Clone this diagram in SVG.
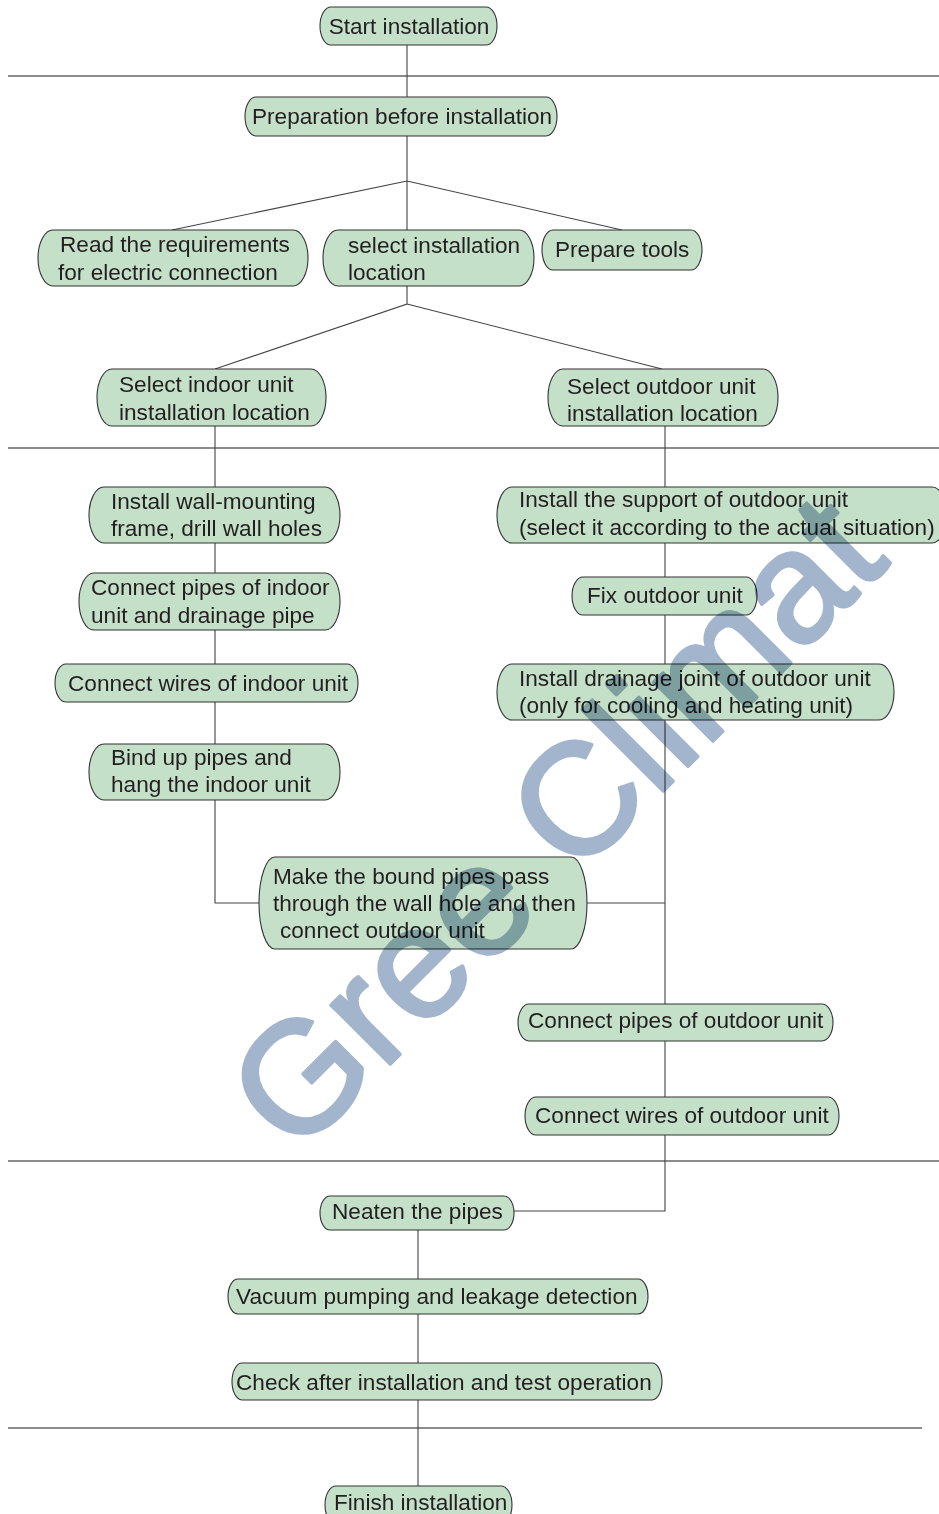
<svg xmlns="http://www.w3.org/2000/svg" width="939" height="1514" viewBox="0 0 939 1514">
<style>
.n{fill:#c4e0c8;stroke:#333;stroke-width:1.1}
.t{font-family:"Liberation Sans",Arial,sans-serif;font-size:22.6px;fill:#231f20}
.c{fill:none;stroke:#444;stroke-width:1.1}
.sep{fill:none;stroke:#666;stroke-width:1.6}
.wm{font-family:"Liberation Sans",Arial,sans-serif;font-size:158px;fill:#a2b5cc;stroke:#a2b5cc;stroke-width:3.5;stroke-linejoin:round;mix-blend-mode:multiply}
</style>
<rect width="939" height="1514" fill="#fff"/>
<g id="separators">
<line class="sep" x1="8" y1="76" x2="939" y2="76"/>
<line class="sep" x1="8" y1="448" x2="939" y2="448"/>
<line class="sep" x1="8" y1="1161" x2="939" y2="1161"/>
<line class="sep" x1="8" y1="1428" x2="922" y2="1428"/>
</g>
<g id="connectors">
<path class="c" d="M407 45V97"/>
<path class="c" d="M407 136V230M407 181L172 230M407 181L622 230"/>
<path class="c" d="M407 286V304L215 369M407 304L662 369"/>
<path class="c" d="M215 426V487M215 543V573M215 630V664M215 702V744M215 800V903H259"/>
<path class="c" d="M665 426V487M665 543V577M665 615V664M665 720V1004M587 903H665M665 1041V1097M665 1135V1211H514"/>
<path class="c" d="M418 1230V1279M418 1314V1363M418 1400V1486"/>
</g>
<g id="n1"><path class="n" d="M331 7H486A11 19 0 0 1 486 45H331A11 19 0 0 1 331 7Z"/><text class="t" x="409" y="34" text-anchor="middle">Start installation</text></g>
<g id="n2"><path class="n" d="M256 97H546A11 19.5 0 0 1 546 136H256A11 19.5 0 0 1 256 97Z"/><text class="t" x="252" y="124">Preparation before installation</text></g>
<g id="n3"><path class="n" d="M53 230H293A15 28 0 0 1 293 286H53A15 28 0 0 1 53 230Z"/><text class="t" x="60" y="252">Read the requirements</text><text class="t" x="58" y="280">for electric connection</text></g>
<g id="n4"><path class="n" d="M338 230H519A15 28 0 0 1 519 286H338A15 28 0 0 1 338 230Z"/><text class="t" x="348" y="253">select installation</text><text class="t" x="348" y="280">location</text></g>
<g id="n5"><path class="n" d="M553 230H691A11 20 0 0 1 691 270H553A11 20 0 0 1 553 230Z"/><text class="t" x="555" y="257">Prepare tools</text></g>
<g id="n6"><path class="n" d="M112 369H311A15 28.5 0 0 1 311 426H112A15 28.5 0 0 1 112 369Z"/><text class="t" x="119" y="392">Select indoor unit</text><text class="t" x="119" y="420">installation location</text></g>
<g id="n7"><path class="n" d="M563 369H763A15 28.5 0 0 1 763 426H563A15 28.5 0 0 1 563 369Z"/><text class="t" x="567" y="394">Select outdoor unit</text><text class="t" x="567" y="421">installation location</text></g>
<g id="n8"><path class="n" d="M104 487H325A15 28 0 0 1 325 543H104A15 28 0 0 1 104 487Z"/><text class="t" x="111" y="509">Install wall-mounting</text><text class="t" x="111" y="536">frame, drill wall holes</text></g>
<g id="n9"><path class="n" d="M512 487H932A15 28 0 0 1 932 543H512A15 28 0 0 1 512 487Z"/><text class="t" x="519" y="507">Install the support of outdoor unit</text><text class="t" x="519" y="535">(select it according to the actual situation)</text></g>
<g id="n10"><path class="n" d="M94 573H325A15 28.5 0 0 1 325 630H94A15 28.5 0 0 1 94 573Z"/><text class="t" x="91" y="595">Connect pipes of indoor</text><text class="t" x="91" y="623">unit and drainage pipe</text></g>
<g id="n11"><path class="n" d="M583 577H746A11 19 0 0 1 746 615H583A11 19 0 0 1 583 577Z"/><text class="t" x="587" y="603">Fix outdoor unit</text></g>
<g id="n12"><path class="n" d="M66 664H347A11 19 0 0 1 347 702H66A11 19 0 0 1 66 664Z"/><text class="t" x="68" y="691">Connect wires of indoor unit</text></g>
<g id="n13"><path class="n" d="M512 664H879A15 28 0 0 1 879 720H512A15 28 0 0 1 512 664Z"/><text class="t" x="519" y="686">Install drainage joint of outdoor unit</text><text class="t" x="519" y="713">(only for cooling and heating unit)</text></g>
<g id="n14"><path class="n" d="M104 744H325A15 28 0 0 1 325 800H104A15 28 0 0 1 104 744Z"/><text class="t" x="111" y="765">Bind up pipes and</text><text class="t" x="111" y="792">hang the indoor unit</text></g>
<g id="n15"><path class="n" d="M275 857H571A16 46 0 0 1 571 949H275A16 46 0 0 1 275 857Z"/><text class="t" x="273" y="884">Make the bound pipes pass</text><text class="t" x="273" y="911">through the wall hole and then</text><text class="t" x="280" y="938">connect outdoor unit</text></g>
<g id="n16"><path class="n" d="M529 1004H822A11 18.5 0 0 1 822 1041H529A11 18.5 0 0 1 529 1004Z"/><text class="t" x="528" y="1028">Connect pipes of outdoor unit</text></g>
<g id="n17"><path class="n" d="M536 1097H828A11 19 0 0 1 828 1135H536A11 19 0 0 1 536 1097Z"/><text class="t" x="535" y="1123">Connect wires of outdoor unit</text></g>
<g id="n18"><path class="n" d="M330 1196H504A10 17 0 0 1 504 1230H330A10 17 0 0 1 330 1196Z"/><text class="t" x="332" y="1219">Neaten the pipes</text></g>
<g id="n19"><path class="n" d="M238 1279H638A10 17.5 0 0 1 638 1314H238A10 17.5 0 0 1 238 1279Z"/><text class="t" x="236" y="1304">Vacuum pumping and leakage detection</text></g>
<g id="n20"><path class="n" d="M242 1363H652A10 18.5 0 0 1 652 1400H242A10 18.5 0 0 1 242 1363Z"/><text class="t" x="236" y="1390">Check after installation and test operation</text></g>
<g id="n21"><path class="n" d="M336 1486H501A11 19 0 0 1 501 1524H336A11 19 0 0 1 336 1486Z"/><text class="t" x="334" y="1510">Finish installation</text></g>
<g id="watermark"><text class="wm" transform="translate(554,821) rotate(-45)" x="0" y="56" text-anchor="middle">Gree Climat</text></g>
</svg>
